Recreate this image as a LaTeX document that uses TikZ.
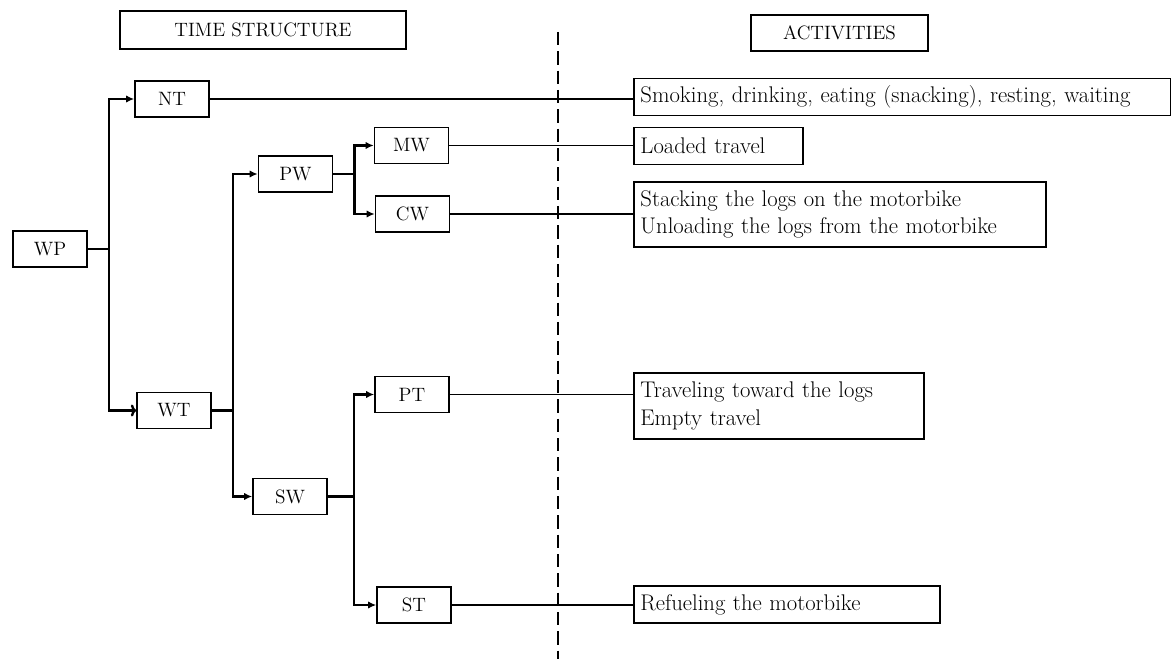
\documentclass[tikz,border=0pt]{standalone}
\usetikzlibrary{arrows.meta}
\begin{document}
\begin{tikzpicture}[x=0.75pt,y=-0.75pt,
  every node/.style={font=\fontsize{14.5}{20}\selectfont},
  tbox/.style={draw,line width=1.2pt,minimum width=55.5pt,minimum height=27pt,inner sep=0pt},
  abox/.style={draw,line width=1.2pt,anchor=west,align=left,inner xsep=5pt,inner ysep=0pt,minimum height=27.75pt,font=\fontsize{17}{20.5}\selectfont},
  tree/.style={line width=1.8pt},
  tip/.style={-{Latex[length=6pt,width=5.5pt]}},
  link/.style={line width=1pt}]
\useasboundingbox (0,0) rectangle (1171,659);
\draw[line width=1.8pt,dash pattern=on 10pt off 4.5pt] (558,32) -- (558,659);
\node[draw,line width=1.2pt,minimum width=214.5pt,minimum height=28.5pt] (ts) at (263,30) {TIME STRUCTURE};
\node[draw,line width=1.2pt,minimum width=132.75pt,minimum height=27pt] (act) at (839.5,33) {ACTIVITIES};
\node[tbox] (WP) at (50,249) {WP};
\node[tbox] (NT) at (172,99) {NT};
\node[tbox] (WT) at (174,410.5) {WT};
\node[tbox] (PW) at (295.5,174) {PW};
\node[tbox] (SW) at (290,496.5) {SW};
\node[tbox] (MW) at (411.5,145.5) {MW};
\node[tbox] (CW) at (412.5,214) {CW};
\node[tbox] (PT) at (412,394.5) {PT};
\node[tbox] (ST) at (414,605) {ST};
\node[abox,text width=392.75pt] (aNT) at (633,97) {Smoking, drinking, eating (snacking), resting, waiting};
\node[abox,text width=116.75pt] (aMW) at (633,146) {Loaded travel};
\node[abox,text width=299pt,minimum height=48.75pt] (aCW) at (633,214.5) {Stacking the logs on the motorbike\\Unloading the logs from the motorbike};
\node[abox,text width=207.5pt,minimum height=49.5pt] (aPT) at (633,406) {Traveling toward the logs\\Empty travel};
\node[abox,text width=219.5pt] (aST) at (633,604.5) {Refueling the motorbike};
\draw[tree] (WP.east) -- ++(21,0) coordinate (j1);
\draw[tree,tip] (j1) |- (NT.west);
\draw[tree,-{To[length=4pt,width=9pt]}] (j1) |- (WT.west);
\draw[tree] (WT.east) -- ++(21,0) coordinate (j2);
\draw[tree,tip] (j2) |- (PW.west);
\draw[tree,tip] (j2) |- (SW.west);
\draw[tree] (PW.east) -- ++(21,0) coordinate (j3);
\draw[tree,tip] (j3) |- (MW.west);
\draw[tree,tip] (j3) |- (CW.west);
\draw[tree] (SW.east) -- ++(26,0) coordinate (j4);
\draw[tree,tip] (j4) |- (PT.west);
\draw[tree,tip] (j4) |- (ST.west);
\draw[link] (NT.east) -- (NT.east -| aNT.west);
\draw[link] (MW.east) -- (MW.east -| aMW.west);
\draw[link] (CW.east) -- (CW.east -| aCW.west);
\draw[link] (PT.east) -- (PT.east -| aPT.west);
\draw[link] (ST.east) -- (ST.east -| aST.west);
\end{tikzpicture}
\end{document}
